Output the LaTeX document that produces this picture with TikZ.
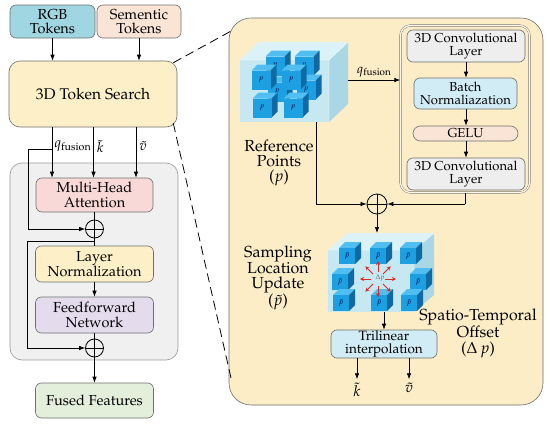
\documentclass[tikz,border=0pt]{standalone}
\usepackage[T1]{fontenc}
\usepackage{mathpazo}
\usetikzlibrary{arrows.meta}
\definecolor{rgbc}{RGB}{160,214,226}
\definecolor{semc}{RGB}{250,228,214}
\definecolor{ylw}{RGB}{253,240,200}
\definecolor{grayp}{RGB}{240,240,240}
\definecolor{pinkc}{RGB}{248,217,215}
\definecolor{lavc}{RGB}{228,220,236}
\definecolor{grnc}{RGB}{227,239,219}
\definecolor{panelc}{RGB}{252,237,198}
\definecolor{convc}{RGB}{238,238,238}
\definecolor{lblue}{RGB}{210,236,246}
\definecolor{cfront}{RGB}{200,232,241}
\definecolor{ctop}{RGB}{220,242,249}
\definecolor{cside}{RGB}{170,215,229}
\definecolor{sfront}{RGB}{28,160,226}
\definecolor{stop}{RGB}{80,190,240}
\definecolor{sside}{RGB}{15,105,165}
\definecolor{edgec}{RGB}{110,110,110}
\definecolor{redc}{RGB}{225,40,35}
\tikzset{
  box/.style={draw=edgec, line width=0.6pt, rounded corners=6pt, align=center, inner sep=0pt,
    font=\fontsize{14.5}{14.5}\selectfont},
  rbox/.style={box, font=\fontsize{13}{12.5}\selectfont},
  arr/.style={-{Latex[length=6pt,width=4.5pt]}, line width=0.7pt},
  plainline/.style={line width=0.7pt},
  dashline/.style={line width=0.8pt, dash pattern=on 9pt off 5pt},
  opl/.style={circle, draw, line width=0.8pt, minimum size=18pt, inner sep=0pt,
    path picture={\draw[line width=0.8pt] (path picture bounding box.north) -- (path picture bounding box.south)
      (path picture bounding box.west) -- (path picture bounding box.east);}},
  sidelabel/.style={align=center, font=\fontsize{16}{15}\selectfont},
  lbl/.style={font=\fontsize{14}{14}\selectfont},
  pics/scube/.style args={#1/#2/#3}{code={
    \fill[stop] (-#1,-#1) -- ++(#2,-#2) -- ++(2*#1,0) -- (#1,-#1) -- cycle;
    \fill[sside] (#1,-#1) -- ++(#2,-#2) -- ++(0,2*#1) -- (#1,#1) -- cycle;
    \fill[sfront] (-#1,-#1) rectangle (#1,#1);
    \node[inner sep=0pt, text=black!75!blue, font=\fontsize{7.5}{7.5}\selectfont] at (0,0) {#3};
  }}
}
\begin{document}
\begin{tikzpicture}[x=1pt,y=-1pt]
\useasboundingbox (0,0) rectangle (550,426);

% ---------- panels ----------
\node[box, fill=grayp, draw=edgec!70, rounded corners=12pt, minimum width=168pt, minimum height=197pt] (gp) at (94,261.5) {};
\node[box, fill=panelc, draw=edgec, rounded corners=22pt, minimum width=314pt, minimum height=387pt] (rp) at (386,211.5) {};

% ---------- left column ----------
\node[box, fill=rgbc, minimum width=85pt, minimum height=33pt, font=\fontsize{14.5}{14}\selectfont] (rgb) at (52.5,21.5) {RGB\\Tokens};
\node[box, fill=semc, minimum width=84pt, minimum height=33pt, font=\fontsize{14.5}{14}\selectfont] (sem) at (139,21.5) {Sementic\\Tokens};
\node[box, fill=ylw, rounded corners=11pt, minimum width=168pt, minimum height=66pt, font=\fontsize{15.5}{15}\selectfont] (ts) at (93,94) {3D Token Search};
\node[box, fill=pinkc, minimum width=117pt, minimum height=34pt] (mha) at (94.5,195) {Multi-Head\\Attention};
\node[opl] (op1) at (94.5,229) {};
\node[box, fill=ylw, minimum width=118pt, minimum height=36pt] (ln) at (94.5,264) {Layer\\Normalization};
\node[box, fill=lavc, minimum width=118pt, minimum height=36pt] (ffn) at (94.5,315) {Feedforward\\Network};
\node[opl] (op2) at (94.5,348) {};
\node[box, fill=grnc, minimum width=118pt, minimum height=35pt] (fused) at (94.5,400.5) {Fused Features};

\draw[arr] (rgb.south) -- (rgb.south |- ts.north);
\draw[arr] (sem.south) -- (sem.south |- ts.north);
\draw[arr] ([xshift=-41pt]ts.south) -- ([xshift=-41pt]ts.south |- mha.north)
  node[pos=0.38, right, inner sep=2pt, lbl] {$q_{\mathrm{fusion}}$};
\draw[arr] ([xshift=0.5pt]ts.south) -- ([xshift=0.5pt]ts.south |- mha.north)
  node[pos=0.38, right, inner sep=3pt, lbl] {$\tilde{k}$};
\draw[arr] ([xshift=43pt]ts.south) -- ([xshift=43pt]ts.south |- mha.north)
  node[pos=0.38, right, inner sep=3pt, lbl] {$\tilde{v}$};

\coordinate (rs1) at (52,149);
\coordinate (rc1) at (28,149);
\draw[plainline] (rs1) -- (rc1);
\draw[arr] (rc1) |- (op1.west);
\draw[plainline] (mha.south) -- (op1.north);
\draw[plainline] (op1.south) -- (ln.north);
\coordinate (rs2) at (94.5,241);
\coordinate (rc2) at (27,241);
\draw[plainline] (rs2) -- (rc2);
\draw[arr] (rc2) |- (op2.west);
\draw[arr] (ln.south) -- (ffn.north);
\draw[plainline] (ffn.south) -- (op2.north);
\draw[arr] (op2.south) -- (fused.north);

% ---------- dashed zoom lines ----------
\coordinate (dA) at (233,30);
\coordinate (dB) at (231,378);
\draw[dashline] ([xshift=-4pt,yshift=-2pt]ts.north east) -- (dA);
\draw[dashline] ([xshift=-4pt,yshift=4pt]ts.south east) -- (dB);

% ---------- right panel: conv block ----------
\node[draw=edgec, double=panelc!40!white, double distance=1.3pt, rounded corners=10pt, minimum width=129pt, minimum height=167pt] (inner) at (465,109) {};
\node[rbox, fill=convc, minimum width=118pt, minimum height=32pt] (conv1) at (466,46) {3D Convolutional\\Layer};
\node[rbox, fill=lblue, minimum width=103pt, minimum height=31pt] (bn) at (465.5,93.5) {Batch\\Normaliazation};
\node[rbox, fill=semc, rounded corners=7.5pt, minimum width=105pt, minimum height=15pt] (gelu) at (465.5,133.5) {GELU};
\node[rbox, fill=convc, minimum width=118pt, minimum height=32pt] (conv2) at (466,174) {3D Convolutional\\Layer};
\draw[arr] (conv1.south) -- (conv1.south |- bn.north);
\draw[arr] (conv1.south |- bn.south) -- (conv1.south |- gelu.north);
\draw[arr] (conv1.south |- gelu.south) -- (conv2.north);

% ---------- reference cube ----------
\fill[ctop] (240,60) -- (259,42) -- (348,42) -- (329,60) -- cycle;
\fill[cside] (329,60) -- (348,42) -- (348,104) -- (329,122) -- cycle;
\fill[cfront] (240,60) rectangle (329,122);
\draw[white, line width=0.4pt] (240,60) -- (329,60) -- (348,42) (329,60) -- (329,122);
\pic at (275,66) {scube={9.5/6/$p$}};
\pic at (304,66) {scube={9.5/6/$p$}};
\pic at (277,92) {scube={9.5/6/$p$}};
\pic at (306,90) {scube={9.5/6/$p$}};
\pic at (261,80) {scube={9.5/6/$p$}};
\pic at (291,80) {scube={9.5/6/$p$}};
\pic at (262,108) {scube={9.5/6/$p$}};
\pic at (293,108) {scube={9.5/6/$p$}};
\node[minimum width=108pt, minimum height=80pt, inner sep=0pt] (cube1) at (294,82) {};

\coordinate (c1r) at (348,80);
\draw[arr] (c1r) -- (c1r -| inner.west) node[midway, above, inner sep=3pt, font=\fontsize{13}{13}\selectfont] {$q_{\mathrm{fusion}}$};

\node[sidelabel] (reflab) at (279,163) {Reference\\Points\\($p$)};

% ---------- sum ----------
\node[opl, minimum size=20pt] (op3) at (377,204) {};
\coordinate (c1b) at (316,122);
\coordinate (c1c) at (316,204);
\draw[plainline] (c1b) -- (c1c);
\draw[arr] (c1c) -- (op3.west);
\draw[plainline] (inner.south) -- (inner.south |- op3);
\draw[arr] (inner.south |- op3) -- (op3.east);

% ---------- sampling cube ----------
\fill[ctop] (328,250) -- (348,233) -- (434,233) -- (414,250) -- cycle;
\fill[cside] (414,250) -- (434,233) -- (434,295) -- (414,312) -- cycle;
\fill[cfront] (328,250) rectangle (414,312);
\draw[white, line width=0.4pt] (328,250) -- (414,250) -- (434,233) (414,250) -- (414,312);
\pic at (347,256) {scube={8/6/$\tilde{p}$}};
\pic at (378,256) {scube={8/6/$\tilde{p}$}};
\pic at (408,256) {scube={8/6/$\tilde{p}$}};
\pic at (340,282) {scube={8/6/$\tilde{p}$}};
\pic at (418,282) {scube={8/6/$\tilde{p}$}};
\pic at (341,303) {scube={8/6/$\tilde{p}$}};
\pic at (379,303) {scube={8/6/$\tilde{p}$}};
\pic at (409,303) {scube={8/6/$\tilde{p}$}};
\coordinate (dc) at (378,279);
\foreach \a in {0,45,...,315}
  \draw[-{Stealth[length=4pt,width=4pt]}, redc, line width=0.8pt] (dc) ++(\a:7) -- ++(\a:11);
\node[text=black!60, font=\fontsize{7}{7}\selectfont, inner sep=0.3pt] at (380,278) {$\Delta p$};

\coordinate (c2t) at (377,233);
\draw[arr] (op3.south) -- (c2t);

\node[sidelabel] (samplab) at (278,278) {Sampling\\Location\\Update\\($\tilde{p}$)};
\node[sidelabel, font=\fontsize{16}{16}\selectfont] (offlab) at (478,333) {Spatio-Temporal\\Offset\\($\Delta\,p$)};

% ---------- trilinear ----------
\node[rbox, fill=lblue, minimum width=106pt, minimum height=28pt, font=\fontsize{13.5}{12.7}\selectfont] (tri) at (384,344) {Trilinear\\interpolation};
\coordinate (c2b) at (384,312);
\draw[arr] (c2b) -- (c2b |- tri.north);
\draw[arr] ([xshift=-27pt]tri.south) -- ++(0,21) node[below, inner sep=3pt, font=\fontsize{15}{15}\selectfont] {$\tilde{k}$};
\draw[arr] ([xshift=25pt]tri.south) -- ++(0,21) node[below, inner sep=3pt, font=\fontsize{15}{15}\selectfont] {$\tilde{v}$};
\end{tikzpicture}
\end{document}
